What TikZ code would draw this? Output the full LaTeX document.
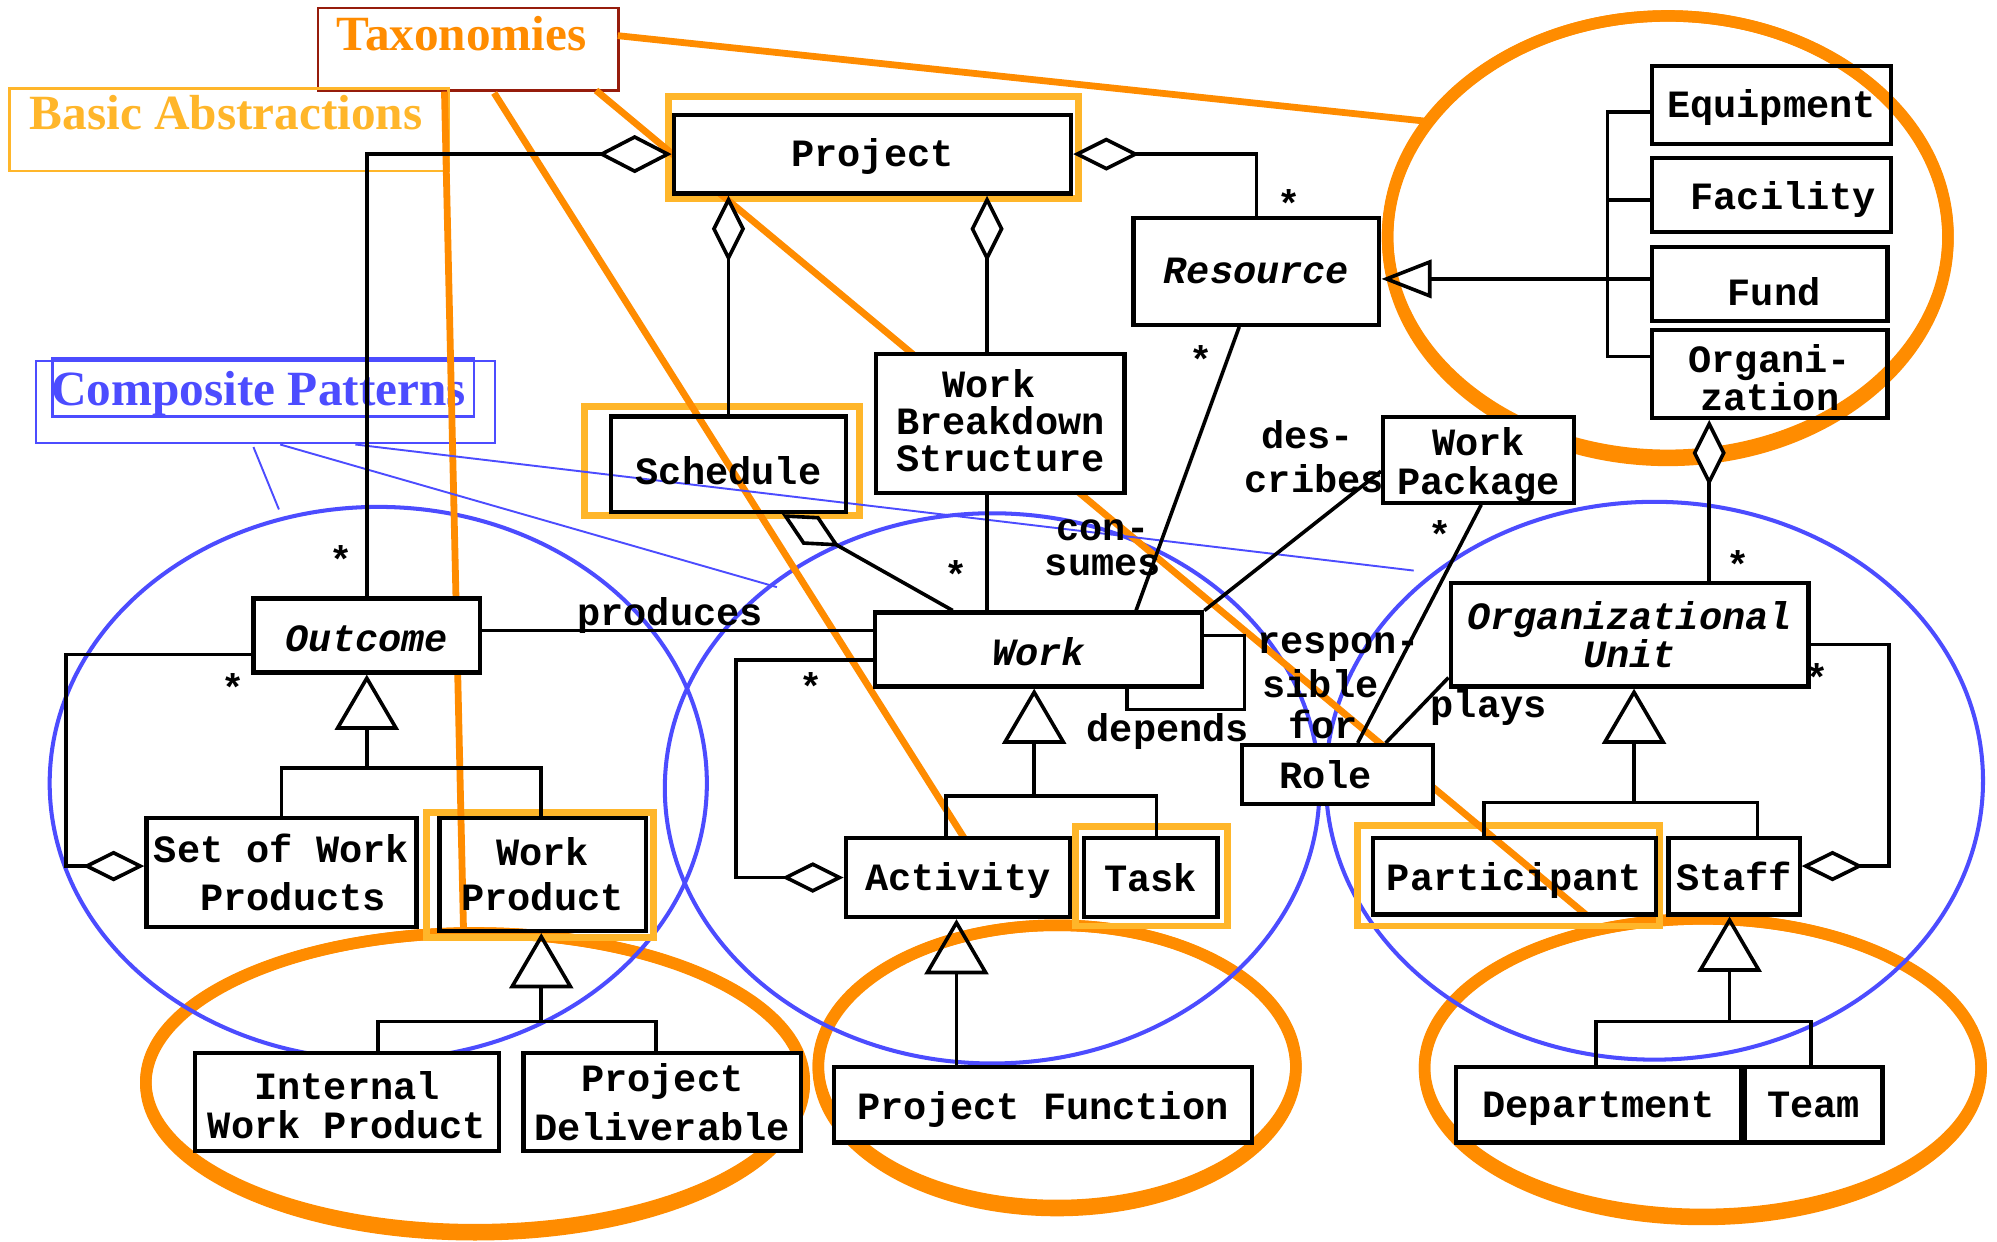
\documentclass[tikz,border=0pt]{standalone}
\usepackage{fontspec}
\setmonofont{Liberation Mono}
\newfontfamily\ttlfont{Liberation Serif}
\usetikzlibrary{arrows.meta}
\definecolor{taxorange}{RGB}{255,140,0}
\definecolor{hlyellow}{RGB}{255,182,42}
\definecolor{cpblue}{RGB}{76,76,255}
\definecolor{taxred}{RGB}{150,28,12}
\newcommand\clsfont{\ttfamily\bfseries\fontsize{18.2}{21.8}\selectfont}
\newcommand\clsbs[1]{\ttfamily\bfseries\fontsize{18.2}{#1}\selectfont}
\newcommand\tstrut[1]{\rule{0pt}{#1}}
\newcommand\bstrut[1]{\rule[-#1]{0pt}{#1}}
\newcommand\umlbox[7][]{%
  \node[cls,minimum width={(#4-#2)*0.6pt},minimum height={(#5-#3)*0.6pt},#1] (#6) at ({(#2+#4)/2},{(#3+#5)/2}) {#7};}
\begin{document}
\begin{tikzpicture}[x=0.6pt,y=-0.6pt,
  cls/.style={draw=black,line width=2pt,rectangle,inner sep=0pt,font=\clsfont,align=center},
  wf/.style={fill=white},
  conn/.style={draw=black,line width=1.7pt},
  agg/.style={conn,{Diamond[fill=white,length=31.2pt,width=15.6pt]}-},
  aggbig/.style={conn,{Diamond[fill=white,length=34.8pt,width=18pt]}-},
  aggend/.style={conn,-{Diamond[fill=white,length=29pt,width=14.4pt]}},
  gen/.style={conn,{Triangle[open,length=26pt,width=30pt]}-},
  gensmall/.style={conn,{Triangle[open,length=23.6pt,width=18pt]}-},
  mult/.style={font=\clsfont,inner sep=0pt},
  lbl/.style={font=\clsfont,inner sep=0pt,anchor=base west},
  hl/.style={draw=hlyellow,line width=3.2pt},
  oline/.style={draw=taxorange,line width=3.2pt},
  oell/.style={draw=taxorange,line width=5.4pt},
  bell/.style={draw=cpblue,line width=1.9pt},
  bline/.style={draw=cpblue,line width=0.9pt},
  ttl/.style={inner sep=0pt,anchor=base west,font=\ttlfont\bfseries\fontsize{23.2}{27}\selectfont}
]
\useasboundingbox (0,0) rectangle (1568,975);
\fill[white] (0,0) rectangle (1568,975);

% ---- taxonomy regions (orange ellipses, heavier at the bottom)
\draw[oell] (1309.5,185) ellipse [x radius=220, y radius=172.5];
\draw[oell] (1309.5,187) ellipse [x radius=220, y radius=174.5];
\draw[oell] (373,849) ellipse [x radius=258.5, y radius=116.5];
\draw[oell] (373,851) ellipse [x radius=258.5, y radius=118.5];
\draw[oell] (830,836.5) ellipse [x radius=187.5, y radius=110];
\draw[oell] (830,838.5) ellipse [x radius=187.5, y radius=112];
\draw[oell] (1337,837.5) ellipse [x radius=218.5, y radius=116];
\draw[oell] (1337,839.5) ellipse [x radius=218.5, y radius=118];
% ---- composite pattern regions (blue ellipses)
\draw[bell] (297,615) ellipse [x radius=258, y radius=217];
\draw[bell] (779,619) ellipse [x radius=257, y radius=216];
\draw[bell] (1299,613) ellipse [x radius=258, y radius=219];

% ---- title boxes
\umlbox[draw=taxred,line width=1.1pt]{249.5}{6.5}{485.5}{71}{taxbox}{}
\umlbox[draw=hlyellow,line width=1.25pt]{7.7}{69.3}{352}{134.3}{basicbox}{}
\umlbox[draw=cpblue,line width=0.9pt]{28.6}{283.5}{389}{347.6}{compbox}{}
\umlbox[draw=cpblue,line width=1.2pt]{41.3}{281.4}{372}{327.2}{compinner}{}
\node[ttl,text=taxorange] (taxtxt) at (264,40) {Taxonomies};
\node[ttl,text=hlyellow] (basictxt) at (23,102) {Basic Abstractions};
\node[ttl,text=cpblue] (comptxt) at (40,318) {Composite Patterns};

% ---- highlights (basic abstractions)
\draw[hl] (525,75.5) rectangle (846.5,156);
\draw[hl] (459,319) rectangle (675,405);
\draw[hl] (335,638) rectangle (513,736);
\draw[hl] (844.5,649) rectangle (964,727);
\draw[hl] (1066,648) rectangle (1303,727);

% ---- taxonomy lines
\coordinate (ta) at (485,28);  \coordinate (tae) at (1118,95);
\coordinate (tb) at (468,71);  \coordinate (tbe) at (1245,718);
\coordinate (tc) at (388,73);  \coordinate (tce) at (757,658);
\coordinate (td) at (349,72);  \coordinate (tde) at (364,733);
\draw[oline] (ta) -- (tae);
\draw[oline] (tb) -- (tbe);
\draw[oline] (tc) -- (tce);
\draw[oline] (td) -- (tde);

% ---- composite pattern lines
\coordinate (ca) at (199,351); \coordinate (cae) at (219,400);
\coordinate (cb) at (220,349); \coordinate (cbe) at (610,461);
\coordinate (cc) at (279,349); \coordinate (cce) at (1110,448);
\draw[bline] (ca) -- (cae);
\draw[bline] (cb) -- (cbe);
\draw[bline] (cc) -- (cce);

% ---- classes
\umlbox[wf]{529}{90}{841}{152}{project}{\tstrut{15.6pt}Project}
\umlbox[wf,font=\clsfont\itshape]{890}{171}{1083}{255}{resource}{Resource}
\umlbox{1297}{52}{1485}{113}{equip}{\tstrut{15.6pt}Equipment}
\umlbox[wf]{1297}{124}{1485}{182}{facility}{\tstrut{18pt}\hphantom{x}Facility}
\umlbox[wf]{1297}{194}{1482}{252}{fund}{}
\node[lbl,anchor=base] (fundtxt) at (1393,240) {Fund};
\umlbox[font=\clsbs{18pt}]{1297}{259}{1482}{328}{org}{\tstrut{16.8pt}Organi-\\zation}
\umlbox{480}{327}{664}{402}{schedule}{\tstrut{19.2pt}Schedule}
\umlbox[wf,font=\clsbs{17.4pt}]{688}{278}{883}{387}{wbs}{Work\hphantom{x}\\Breakdown\\Structure\bstrut{2.4pt}}
\umlbox[wf,font=\clsbs{18.6pt}]{1086}{328}{1236}{394}{wpkg}{\tstrut{18pt}Work\\Package}
\umlbox[wf,font=\clsfont\itshape]{199}{470}{377}{528}{outcome}{\tstrut{15.6pt}Outcome}
\umlbox[wf,font=\clsfont\itshape]{687}{481}{944}{539}{work}{\tstrut{15.6pt}Work}
\umlbox[wf,font=\clsbs{18pt}\itshape]{1139}{458}{1420}{539}{ou}{Organizational\\Unit}
\umlbox[wf]{975}{585}{1125}{631}{role}{Role\hphantom{x}}
\umlbox[wf,font=\clsbs{22.8pt}]{115}{642}{327}{728}{swp}{Set of Work\\\hphantom{x}Products}
\umlbox[font=\clsbs{21.3pt}]{345}{642}{507}{731}{wprod}{Work\\Product}
\umlbox[wf]{664}{658}{840}{720}{activity}{\tstrut{15.6pt}Activity}
\umlbox[wf]{851}{658}{956}{720}{task}{Task}
\umlbox{1078}{658}{1300}{718}{participant}{\tstrut{16.8pt}Participant}
\umlbox[wf]{1310}{658}{1413}{718}{staff}{Staff}
\umlbox[wf,font=\clsbs{18.4pt}]{153}{827}{392}{904}{iwp}{\tstrut{16.2pt}Internal\\Work Product}
\umlbox[wf,font=\clsbs{22.8pt}]{411}{827}{629}{904}{pdel}{Project\\Deliverable}
\umlbox[wf]{655}{838}{983}{897}{pfunc}{\tstrut{18pt}Project Function}
\umlbox[wf]{1143}{838}{1367}{897}{dept}{\tstrut{15.6pt}Department}
\umlbox[wf]{1370}{838}{1478}{897}{team}{Team}

% ---- associations
\draw[aggbig] (project.west) -| (outcome.north);
\draw[agg] (project.east) -| (resource.north);
\draw[agg] (project.south -| 572,0) -- (schedule.north -| 572,0);
\draw[agg] (project.south -| 775,0) -- (wbs.north -| 775,0);
\draw[conn] (wbs.south -| 775,0) -- (work.north -| 775,0);
\draw[agg] (schedule.south -| 614,0) -- (work.north -| 748,0);
\draw[conn] (resource.south -| 973,0) -- (work.north -| 892,0);
\draw[conn] (work.north east) -- (wpkg.west |- 0,370);
\draw[conn] (wpkg.south -| 1163,0) -- (role.north -| 1066,0);
\draw[conn] (ou.west |- 0,532) -- (role.north -| 1088,0);
\draw[conn] (outcome.east |- 0,495) -- (work.west |- 0,495);
\draw[aggend] (outcome.west |- 0,514) -- (52,514) |- (swp.west |- 0,680);
\draw[aggend] (work.west |- 0,518) -- (578,518) |- (activity.west);
\draw[conn] (work.east |- 0,499) -- (977,499) -- (977,557) -- (885,557) -- (work.south -| 885,0);
\draw[agg] (org.south -| 1342,0) -- (ou.north -| 1342,0);
\draw[aggend] (ou.east |- 0,506) -- (1483,506) -- (1483,680) -- (staff.east |- 0,680);

% ---- generalizations
\draw[gen] (outcome.south) -- (outcome.south |- 0,603);
\draw[conn] (swp.north -| 221,0) |- (425,603) -- (wprod.north -| 425,0);
\draw[gen] (work.south -| 812,0) -- (812,625);
\draw[conn] (activity.north -| 743,0) |- (908,625) -- (task.north -| 908,0);
\draw[gen] (activity.south -| 751,0) -- (pfunc.north -| 751,0);
\draw[gen] (wprod.south -| 425,0) -- (425,802);
\draw[conn] (iwp.north -| 297,0) |- (515,802) -- (pdel.north -| 515,0);
\draw[gensmall] (resource.east |- 0,219) -- (fund.west |- 0,219);
\draw[conn] (equip.west |- 0,88) -- (1262,88) -- (1262,280) -- (org.west |- 0,280);
\draw[conn] (1262,157) -- (facility.west |- 0,157);
\draw[gen] (ou.south -| 1283,0) -- (1283,630);
\draw[conn] (participant.north -| 1165,0) |- (1380,630) -- (staff.north -| 1380,0);
\draw[gen] (staff.south -| 1358,0) -- (1358,802);
\draw[conn] (dept.north -| 1253,0) |- (1422,802) -- (team.north -| 1422,0);

% ---- multiplicities
\node[mult] (m1) at (268,439) {*};
\node[mult] (m2) at (183,540) {*};
\node[mult] (m3) at (1012,160) {*};
\node[mult] (m4) at (943,282) {*};
\node[mult] (m5) at (751,451) {*};
\node[mult] (m6) at (637,539) {*};
\node[mult] (m7) at (1131,420) {*};
\node[mult] (m8) at (1365,443) {*};
\node[mult] (m9) at (1427,532) {*};

% ---- association labels
\node[lbl] (lprod) at (453,491) {produces};
\node[font=\clsbs{16.8pt},align=center,inner sep=0pt] (lcon) at (866,430) {con-\\sumes};
\node[lbl] (ldes1) at (990,352) {des-};
\node[lbl] (ldes2) at (977,387) {cribes};
\node[lbl] (lres1) at (987,513) {respon-};
\node[lbl] (lres2) at (991,548) {sible};
\node[lbl] (lres3) at (1011,580) {for};
\node[lbl] (lplays) at (1123,563) {plays};
\node[lbl,anchor=base east] (ldep) at (981,582) {depends};
\end{tikzpicture}
\end{document}
